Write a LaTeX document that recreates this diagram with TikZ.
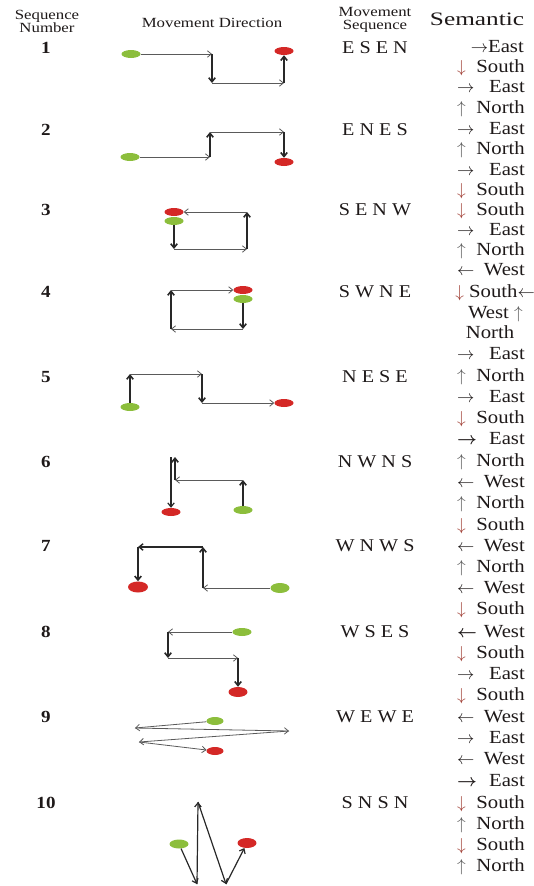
\documentclass[tikz,border=0pt]{standalone}
\usepackage{bm}
\usepackage{fontspec}
\setmainfont{Liberation Serif}[FakeStretch=1.12]
\newfontfamily\hdfont{Liberation Serif}[FakeStretch=1.2]
\newfontfamily\semhd{Liberation Serif}[FakeStretch=1.33]
\usetikzlibrary{arrows.meta,shapes.geometric}
\definecolor{ink}{RGB}{30,25,25}
\definecolor{downred}{RGB}{160,62,52}
\definecolor{upgray}{RGB}{85,85,85}
\definecolor{dotgreen}{RGB}{140,190,60}
\definecolor{dotred}{RGB}{212,40,38}
\definecolor{segh}{RGB}{90,90,90}
\definecolor{segv}{RGB}{40,40,40}
\newcommand\arE{$\rightarrow$}
\newcommand\arEb{$\bm{\rightarrow}$}
\newcommand\arW{$\leftarrow$}
\newcommand\arWb{$\bm{\leftarrow}$}
\newcommand\arN{\textcolor{upgray}{$\uparrow$}}
\newcommand\arS{\textcolor{downred}{$\downarrow$}}
\tikzset{
  txt/.style={inner sep=0pt, text=ink, text height=0.68em, text depth=0.18em},
  sem/.style={txt, font=\fontsize{18.5}{20}\selectfont},
  num/.style={txt, font=\fontsize{17}{18}\selectfont\bfseries},
  seqtxt/.style={txt, font=\fontsize{18}{20}\selectfont},
  hdr/.style={inner sep=0pt, text=ink, align=center, font=\hdfont\fontsize{14}{13}\selectfont},
  dotg/.style={ellipse, fill=dotgreen, minimum width=19pt, minimum height=8pt, inner sep=0pt},
  dotr/.style={ellipse, fill=dotred, minimum width=19pt, minimum height=8pt, inner sep=0pt},
  tip/.style={-{Straight Barb[length=4pt,width=6.5pt]}},
  hseg/.style={draw=segh, line width=0.8pt, tip},
  vseg/.style={draw=segv, line width=1.6pt, tip},
  dseg/.style={draw=segv, line width=1.2pt, tip},
}
\begin{document}
\begin{tikzpicture}[x=1pt,y=-1pt]
\useasboundingbox (0,0) rectangle (534,886);
% headers
\node[hdr] (h1) at (47,21) {Sequence\\Number};
\node[hdr] (h2) at (212,23) {Movement Direction};
\node[hdr] (h3) at (375,20) {Movement\\Sequence};
\node[inner sep=0pt, text=ink, font=\semhd\fontsize{19}{20}\selectfont] (h4) at (477,19) {Semantic};
% numbers and sequences
\foreach \y/\n/\s [count=\i] in {51/1/E S E N,133/2/E N E S,213/3/S E N W,295/4/S W N E,380/5/N E S E,465/6/N W N S,549/7/W N W S,635/8/W S E S,720/9/W E W E,806/10/S N S N}{
  \node[num] (n\i) at (46,\y) {\n};
  \node[seqtxt] (q\i) at (375,\y) {\s};
}
% semantic column
\foreach \y/\a/\w [count=\i] in {70/S/South,90/E/East,111/N/North,132/E/East,152/N/North,173/E/East,193/S/South,213/S/South,233/E/East,253/N/North,273/W/West,357/E/East,379/N/North,400/E/East,421/S/South,442/Eb/East,464/N/North,485/W/West,506/N/North,528/S/South,549/W/West,570/N/North,591/W/West,612/S/South,635/Wb/West,656/S/South,677/E/East,698/S/South,720/W/West,741/E/East,762/W/West,784/Eb/East,806/S/South,827/N/North,848/S/South,869/N/North}{
  \node[sem, anchor=west] (sa\i) at (457,\y) {\csname ar\a\endcsname};
  \node[sem, anchor=east] (sw\i) at (525,\y) {\w};
}
\node[sem, anchor=east] (s0) at (524,50) {\arE East};
\node[sem, anchor=east] (s13) at (535,295) {\arS\ South\arW};
\node[sem, anchor=east] (s14) at (523,316) {West \arN};
\node[sem] (s15) at (490,336) {North};
% row 1: E S E N
\node[dotg] (g1) at (131,54) {};
\node[dotr] (r1) at (284,51) {};
\coordinate (c1a) at (212,54);
\coordinate (c1b) at (212,83);
\coordinate (c1c) at (284,83);
\draw[hseg] (g1) -- (c1a);
\draw[vseg] (c1a) -- (c1b);
\draw[hseg] (c1b) -- (c1c);
\draw[vseg] (c1c) -- (r1);
% row 2: E N E S
\node[dotg] (g2) at (130,157) {};
\node[dotr] (r2) at (284,162) {};
\coordinate (c2a) at (210,157);
\coordinate (c2b) at (210,132);
\coordinate (c2c) at (284,132);
\draw[hseg] (g2) -- (c2a);
\draw[vseg] (c2a) -- (c2b);
\draw[hseg] (c2b) -- (c2c);
\draw[vseg] (c2c) -- (r2);
% row 3: S E N W
\node[dotr] (r3) at (174,212) {};
\node[dotg] (g3) at (174,221) {};
\coordinate (c3a) at (174,249);
\coordinate (c3b) at (247,249);
\coordinate (c3c) at (247,212);
\draw[vseg] (g3) -- (c3a);
\draw[hseg] (c3a) -- (c3b);
\draw[vseg] (c3b) -- (c3c);
\draw[hseg] (c3c) -- (r3);
% row 4: S W N E
\node[dotr] (r4) at (243,290) {};
\node[dotg] (g4) at (243,299) {};
\coordinate (c4a) at (243,329);
\coordinate (c4b) at (171,329);
\coordinate (c4c) at (171,290);
\draw[vseg] (g4) -- (c4a);
\draw[hseg] (c4a) -- (c4b);
\draw[vseg] (c4b) -- (c4c);
\draw[hseg] (c4c) -- (r4);
% row 5: N E S E
\node[dotg] (g5) at (130,407) {};
\node[dotr] (r5) at (284,403) {};
\coordinate (c5a) at (130,374);
\coordinate (c5b) at (202,374);
\coordinate (c5c) at (202,403);
\draw[vseg] (g5) -- (c5a);
\draw[hseg] (c5a) -- (c5b);
\draw[vseg] (c5b) -- (c5c);
\draw[hseg] (c5c) -- (r5);
% row 6: N W N S
\node[dotg] (g6) at (243,510) {};
\node[dotr] (r6) at (171,512) {};
\coordinate (c6a) at (243,480);
\coordinate (c6b) at (175,480);
\coordinate (c6c) at (175,457);
\coordinate (c6d) at (171,457);
\draw[vseg] (g6) -- (c6a);
\draw[hseg] (c6a) -- (c6b);
\draw[vseg] (c6b) -- (c6c);
\draw[vseg, line width=1.2pt] (c6d) -- (r6);
% row 7: W N W S
\node[dotg, minimum height=10pt] (g7) at (280,588) {};
\node[dotr, minimum width=20pt, minimum height=11pt] (r7) at (138,587) {};
\coordinate (c7a) at (203,588);
\coordinate (c7b) at (203,547);
\coordinate (c7c) at (138,547);
\draw[hseg] (g7) -- (c7a);
\draw[vseg] (c7a) -- (c7b);
\draw[vseg, line width=1.4pt] (c7b) -- (c7c);
\draw[vseg] (c7c) -- (r7);
% row 8: W S E S
\node[dotg] (g8) at (242,632) {};
\node[dotr, minimum height=10pt] (r8) at (238,692) {};
\coordinate (c8a) at (168,632);
\coordinate (c8b) at (168,658);
\coordinate (c8c) at (238,658);
\draw[hseg] (g8) -- (c8a);
\draw[vseg] (c8a) -- (c8b);
\draw[hseg] (c8b) -- (c8c);
\draw[vseg] (c8c) -- (r8);
% row 9: W E W E
\node[dotg, minimum width=17pt] (g9) at (215,721) {};
\node[dotr, minimum width=17pt] (r9) at (215,751) {};
\coordinate (c9a) at (135,728);
\coordinate (c9b) at (289,731);
\coordinate (c9c) at (139,742);
\draw[hseg] (g9) -- (c9a);
\draw[hseg] (c9a) -- (c9b);
\draw[hseg] (c9b) -- (c9c);
\draw[hseg] (c9c) -- (r9);
% row 10: S N S N
\node[dotg, minimum height=9pt] (g10) at (179,844) {};
\node[dotr, minimum height=10pt] (r10) at (247,843) {};
\coordinate (c10a) at (197,884);
\coordinate (c10b) at (198,802);
\coordinate (c10c) at (226,884);
\draw[dseg] (g10) -- (c10a);
\draw[dseg] (c10a) -- (c10b);
\draw[dseg] (c10b) -- (c10c);
\draw[dseg] (c10c) -- (r10);
\end{tikzpicture}
\end{document}
